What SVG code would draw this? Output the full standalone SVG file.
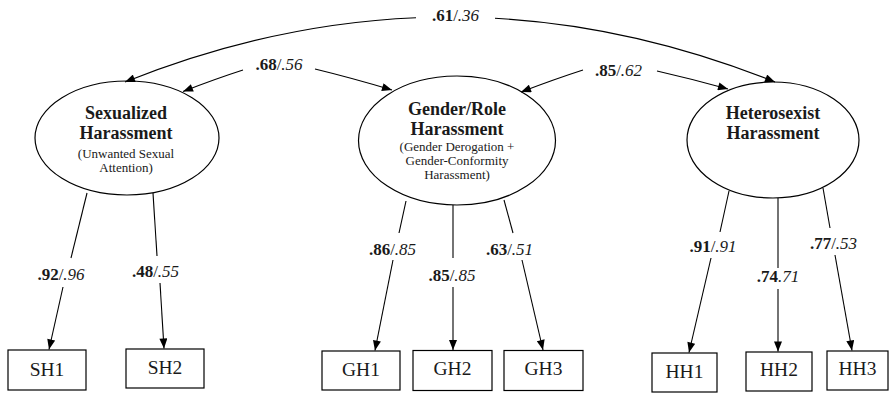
<svg xmlns="http://www.w3.org/2000/svg" width="890" height="393" viewBox="0 0 890 393">
<defs>
<marker id="ah" viewBox="0 0 10 8" refX="10" refY="4" markerWidth="11" markerHeight="8" markerUnits="userSpaceOnUse" orient="auto">
<path d="M0,0 L10,4 L0,8 Z" fill="#000"/>
</marker>
<style>
.lat{fill:#fff;stroke:#000;stroke-width:1.2}
.box{fill:#fff;stroke:#000;stroke-width:1.2}
.t{font-family:"Liberation Serif","Times New Roman",serif;fill:#1a1a1a;text-anchor:middle}
.title{font-size:18px;font-weight:bold}
.sub{font-size:13px}
.obs{font-size:19.5px}
.lbl{font-size:17px}
.c{fill:none;stroke:#000;stroke-width:1.1}
.b{font-weight:bold}
.i{font-style:italic}
</style>
</defs>
<rect width="890" height="393" fill="#fff"/>

<g id="SEX">
<ellipse class="lat" cx="127" cy="138" rx="92" ry="57"/>
<text class="t title" x="126" y="119">Sexualized</text>
<text class="t title" x="126" y="139">Harassment</text>
<text class="t sub" x="126" y="158">(Unwanted Sexual</text>
<text class="t sub" x="126" y="172">Attention)</text>
</g>
<g id="GEN">
<ellipse class="lat" cx="457" cy="140.5" rx="98.5" ry="64.5"/>
<text class="t title" x="457" y="115">Gender/Role</text>
<text class="t title" x="457" y="135">Harassment</text>
<text class="t sub" x="457" y="151">(Gender Derogation +</text>
<text class="t sub" x="457" y="165">Gender-Conformity</text>
<text class="t sub" x="457" y="179">Harassment)</text>
</g>
<g id="HET">
<ellipse class="lat" cx="773" cy="140" rx="86" ry="58"/>
<text class="t title" x="773" y="119">Heterosexist</text>
<text class="t title" x="773" y="139">Harassment</text>
</g>

<g id="SH1"><rect class="box" x="8" y="350" width="78" height="40"/><text class="t obs" x="47" y="376">SH1</text></g>
<g id="SH2"><rect class="box" x="126" y="349" width="78" height="39"/><text class="t obs" x="165" y="374">SH2</text></g>
<g id="GH1"><rect class="box" x="322" y="351" width="78" height="39"/><text class="t obs" x="361" y="376">GH1</text></g>
<g id="GH2"><rect class="box" x="413" y="350.5" width="79" height="40"/><text class="t obs" x="452.5" y="375">GH2</text></g>
<g id="GH3"><rect class="box" x="504" y="350.5" width="79" height="40"/><text class="t obs" x="543.5" y="375">GH3</text></g>
<g id="HH1"><rect class="box" x="652" y="353" width="65" height="39"/><text class="t obs" x="684.5" y="378">HH1</text></g>
<g id="HH2"><rect class="box" x="746" y="352" width="66" height="39"/><text class="t obs" x="779" y="376">HH2</text></g>
<g id="HH3"><rect class="box" x="827" y="351" width="61" height="39"/><text class="t obs" x="857.5" y="375">HH3</text></g>

<g id="connectors">
<path class="c" d="M416,17.7 Q270.5,23.8 125,82" marker-end="url(#ah)"/>
<path class="c" d="M495,18.3 Q635,26 775,82" marker-end="url(#ah)"/>
<path class="c" d="M243,70 Q215,79 183,91.5" marker-end="url(#ah)"/>
<path class="c" d="M315,69 Q352,78 392,90" marker-end="url(#ah)"/>
<path class="c" d="M583,70 Q555,79 521,92" marker-end="url(#ah)"/>
<path class="c" d="M657,71 Q692,79 728,89" marker-end="url(#ah)"/>

<line class="c" x1="87" y1="193" x2="71" y2="258"/>
<line class="c" x1="63" y1="287" x2="49" y2="349.5" marker-end="url(#ah)"/>
<line class="c" x1="153" y1="193" x2="157" y2="256"/>
<line class="c" x1="160" y1="283" x2="164" y2="348.5" marker-end="url(#ah)"/>

<line class="c" x1="406" y1="201" x2="399" y2="233"/>
<line class="c" x1="393" y1="260" x2="375" y2="350.5" marker-end="url(#ah)"/>
<line class="c" x1="453" y1="205" x2="453" y2="258"/>
<line class="c" x1="453" y1="287" x2="453" y2="350" marker-end="url(#ah)"/>
<line class="c" x1="504" y1="200" x2="513" y2="233"/>
<line class="c" x1="522" y1="260" x2="543" y2="350" marker-end="url(#ah)"/>

<line class="c" x1="729" y1="191" x2="720" y2="232"/>
<line class="c" x1="711" y1="258" x2="689" y2="352.5" marker-end="url(#ah)"/>
<line class="c" x1="778" y1="198" x2="778" y2="268"/>
<line class="c" x1="778" y1="289" x2="778" y2="351.5" marker-end="url(#ah)"/>
<line class="c" x1="823" y1="188" x2="830" y2="228"/>
<line class="c" x1="835" y1="255" x2="852" y2="350.5" marker-end="url(#ah)"/>
</g>

<g id="labels">
<text class="t lbl" x="455.5" y="21"><tspan class="b">.61</tspan>/<tspan class="i">.36</tspan></text>
<text class="t lbl" x="279" y="70"><tspan class="b">.68</tspan>/<tspan class="i">.56</tspan></text>
<text class="t lbl" x="618.5" y="76"><tspan class="b">.85</tspan>/<tspan class="i">.62</tspan></text>
<text class="t lbl" x="61" y="280"><tspan class="b">.92</tspan>/<tspan class="i">.96</tspan></text>
<text class="t lbl" x="155.5" y="277"><tspan class="b">.48</tspan>/<tspan class="i">.55</tspan></text>
<text class="t lbl" x="392.5" y="255"><tspan class="b">.86</tspan>/<tspan class="i">.85</tspan></text>
<text class="t lbl" x="452" y="281"><tspan class="b">.85</tspan>/<tspan class="i">.85</tspan></text>
<text class="t lbl" x="509.5" y="255"><tspan class="b">.63</tspan>/<tspan class="i">.51</tspan></text>
<text class="t lbl" x="713" y="252"><tspan class="b">.91</tspan>/<tspan class="i">.91</tspan></text>
<text class="t lbl" x="778" y="282"><tspan class="b">.74</tspan><tspan class="i">.71</tspan></text>
<text class="t lbl" x="833.5" y="249"><tspan class="b">.77</tspan>/<tspan class="i">.53</tspan></text>
</g>
</svg>
